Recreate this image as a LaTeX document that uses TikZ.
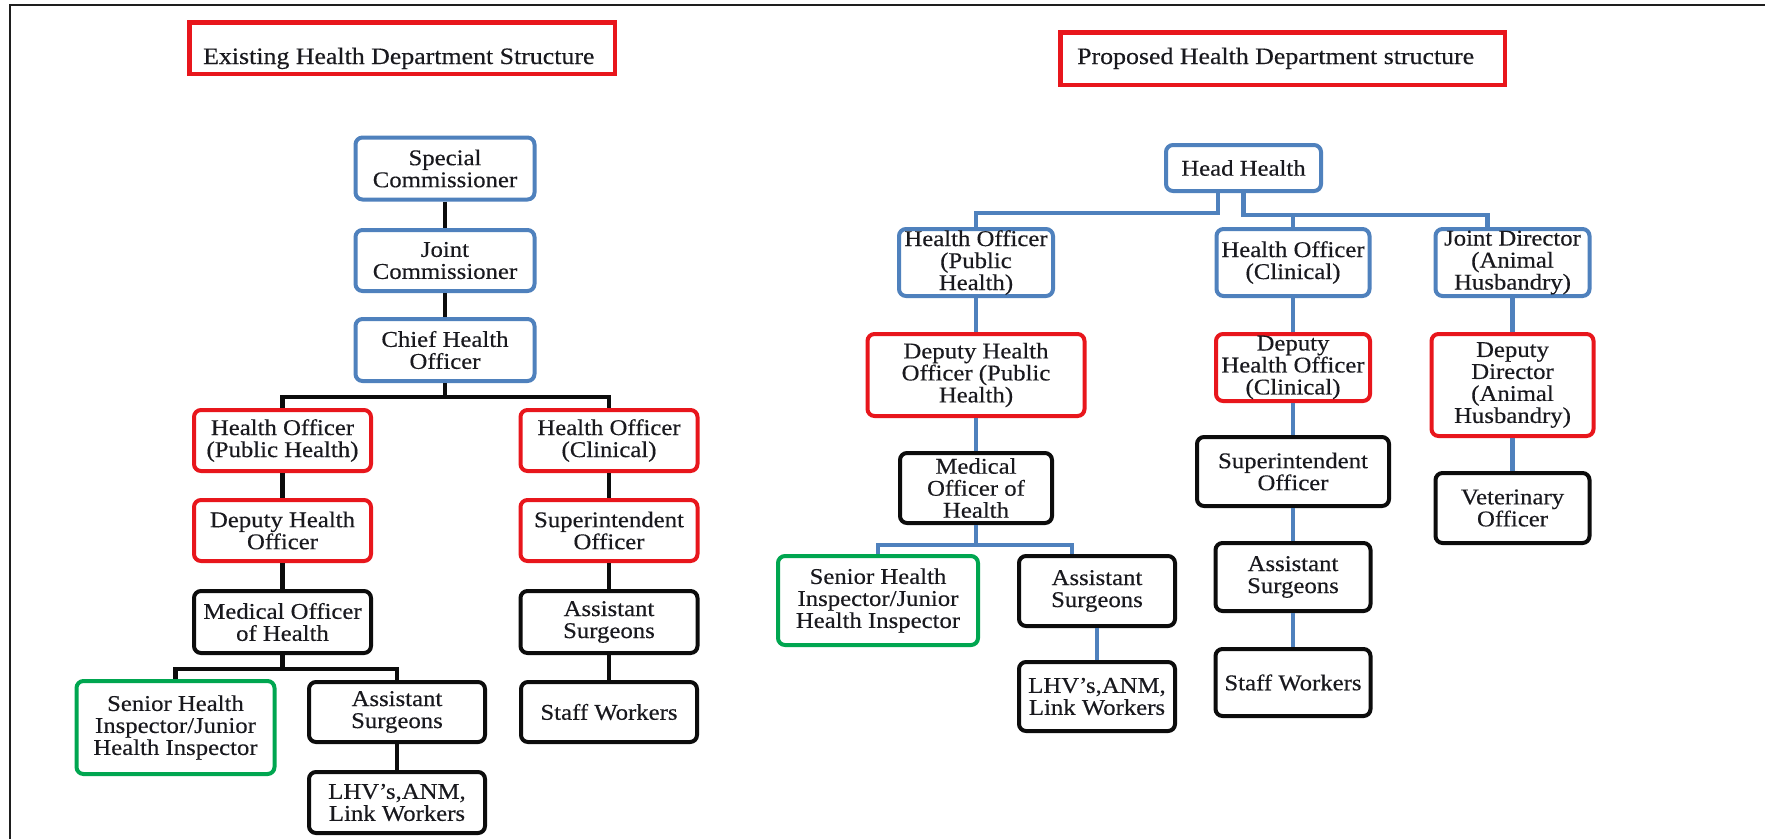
\documentclass[tikz,border=0pt]{standalone}
\usepackage{fontspec}
\setmainfont{Liberation Serif}[FakeStretch=1.1, FakeBold=0.35]
\definecolor{orgblue}{RGB}{79,129,189}
\definecolor{orgred}{RGB}{232,22,28}
\definecolor{orggreen}{RGB}{0,166,80}
\definecolor{orgblack}{RGB}{12,12,12}
\definecolor{framegray}{RGB}{30,30,30}
\definecolor{inkgray}{RGB}{25,25,30}
\begin{document}
\begin{tikzpicture}[x=1pt, y=-1pt,
  box/.style={draw, rounded corners=7pt, line width=4pt, align=center,
    inner sep=0pt, text=inkgray, font=\fontsize{22.5}{22}\selectfont},
  bluebox/.style={box, draw=orgblue},
  redbox/.style={box, draw=orgred},
  greenbox/.style={box, draw=orggreen},
  blackbox/.style={box, draw=orgblack},
  sz/.style n args={2}{minimum width=#1, minimum height=#2},
  titlebox/.style={draw=orgred, line width=4.5pt, inner sep=0pt},
  titletext/.style={inner sep=0pt, text=inkgray, font=\fontsize{23.5}{27}\selectfont},
  blackline/.style={draw=orgblack, line width=4.5pt},
  blueline/.style={draw=orgblue, line width=4.5pt},
]
\useasboundingbox (0,0) rectangle (1765,839);
\fill[white] (0,0) rectangle (1765,839);

% page frame
\draw[framegray, line width=2.5pt] (10,839) -- (10,5) -- (1765,5);

% ---------------- existing structure ----------------
\node[titlebox, sz={425.5}{51.5}] (t1) at (402,48) {};
\node[titletext, anchor=base west] (t1text) at (203,64) {Existing Health Department Structure};

\node[bluebox, sz={179}{62}] (spc) at (445,168.5) {Special\\Commissioner};
\node[bluebox, sz={179}{61}] (jnt) at (445,260.5) {Joint\\Commissioner};
\node[bluebox, sz={179}{62}] (cho) at (445,350) {Chief Health\\Officer};
\node[redbox, sz={177}{61}] (hop) at (282.5,440.5) {Health Officer\\(Public Health)};
\node[redbox, sz={177}{61}] (hoc) at (609,440.5) {Health Officer\\(Clinical)};
\node[redbox, sz={177}{61}] (dho) at (282.5,530.5) {Deputy Health\\Officer};
\node[redbox, sz={177}{61}] (sup) at (609,530.5) {Superintendent\\Officer};
\node[blackbox, sz={177}{62}] (moh) at (282.5,622) {Medical Officer\\of Health};
\node[blackbox, sz={177}{62}] (asc) at (609,622) {Assistant\\Surgeons};
\node[greenbox, sz={198}{93}] (shi) at (175.5,727.5) {Senior Health\\Inspector/Junior\\Health Inspector};
\node[blackbox, sz={176}{60}] (asp) at (397,712) {Assistant\\Surgeons};
\node[blackbox, sz={176}{60}] (stw) at (609,712) {Staff Workers};
\node[blackbox, sz={176}{61}] (lhv) at (397,802.5) {LHV's,ANM,\\Link Workers};

\draw[blackline] (spc) -- (jnt);
\draw[blackline] (jnt) -- (cho);
\draw[blackline] (cho.south) -- ++(0,14) -| (hop.north);
\draw[blackline] (cho.south) -- ++(0,14) -| (hoc.north);
\draw[blackline] (hop) -- (dho);
\draw[blackline] (dho) -- (moh);
\draw[blackline] (hoc) -- (sup);
\draw[blackline] (sup) -- (asc);
\draw[blackline] (asc) -- (stw);
\draw[blackline] (moh.south) -- ++(0,14) -| (shi.north);
\draw[blackline] (moh.south) -- ++(0,14) -| (asp.north);
\draw[blackline] (asp) -- (lhv);

% ---------------- proposed structure ----------------
\node[titlebox, sz={444.5}{52.5}] (t2) at (1282.5,58.5) {};
\node[titletext, anchor=base west] (t2text) at (1077,64) {Proposed Health Department structure};

\node[bluebox, sz={155}{46}] (hh) at (1243.5,168) {Head Health};
\node[bluebox, sz={154}{67}] (rhop) at (976,262.5) {Health Officer\\(Public\\Health)};
\node[bluebox, sz={153}{67}] (rhoc) at (1293,262.5) {Health Officer\\(Clinical)};
\node[bluebox, sz={154}{67}] (jd) at (1512.5,262.5) {Joint Director\\(Animal\\Husbandry)};
\node[redbox, sz={217}{82}] (rdp) at (976,375) {Deputy Health\\Officer (Public\\Health)};
\node[redbox, sz={154}{67}] (rdc) at (1293,367.5) {Deputy\\Health Officer\\(Clinical)};
\node[redbox, sz={162}{102}] (rdd) at (1512.5,385) {Deputy\\Director\\(Animal\\Husbandry)};
\node[blackbox, sz={152}{70}] (rmoh) at (976,488) {Medical\\Officer of\\Health};
\node[blackbox, sz={192}{69}] (rsup) at (1293,471.5) {Superintendent\\Officer};
\node[blackbox, sz={154}{70}] (vet) at (1512.5,508) {Veterinary\\Officer};
\node[greenbox, sz={200}{89}] (rshi) at (878,600.5) {Senior Health\\Inspector/Junior\\Health Inspector};
\node[blackbox, sz={156}{70}] (rasp) at (1097,591) {Assistant\\Surgeons};
\node[blackbox, sz={156}{69}] (rlhv) at (1097,696.5) {LHV's,ANM,\\Link Workers};
\node[blackbox, sz={155}{68}] (rasc) at (1293,577) {Assistant\\Surgeons};
\node[blackbox, sz={155}{67}] (rstw) at (1293,682.5) {Staff Workers};

\draw[blueline] ([xshift=-25.5pt]hh.south) -- ++(0,20) -| (rhop.north);
\draw[blueline] (hh.south) -- ++(0,22) coordinate (hbar) -| ([xshift=-25pt]jd.north);
\draw[blueline] (rhoc.north) -- (rhoc.north |- hbar);
\draw[blueline] (rhop) -- (rdp);
\draw[blueline] (rdp) -- (rmoh);
\draw[blueline] (rmoh.south) -- ++(0,20) -| (rshi.north);
\draw[blueline] (rmoh.south) -- ++(0,20) -| ([xshift=-25pt]rasp.north);
\draw[blueline] (rasp) -- (rlhv);
\draw[blueline] (rhoc) -- (rdc);
\draw[blueline] (rdc) -- (rsup);
\draw[blueline] (rsup) -- (rasc);
\draw[blueline] (rasc) -- (rstw);
\draw[blueline] (jd) -- (rdd);
\draw[blueline] (rdd) -- (vet);
\end{tikzpicture}
\end{document}
